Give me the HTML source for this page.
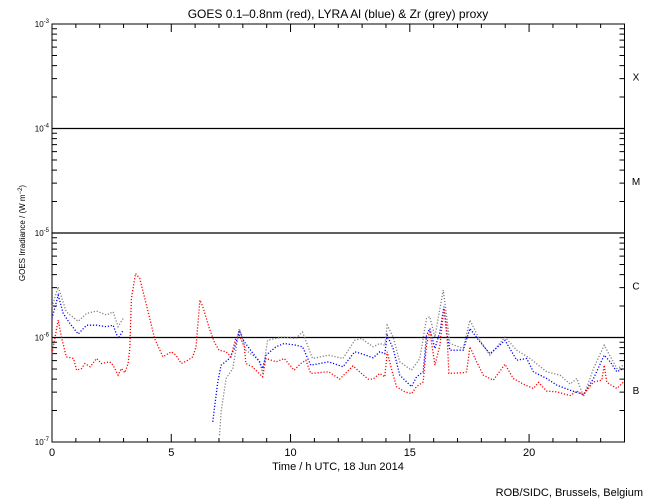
<!DOCTYPE html>
<html><head><meta charset="utf-8"><style>
body{margin:0;background:#fff;}
svg{display:block;font-family:"Liberation Sans",sans-serif;}
</style></head><body>
<svg id="chart" width="650" height="500" viewBox="0 0 650 500">
<rect width="650" height="500" fill="#fff"/>
<text x="338" y="18" text-anchor="middle" font-size="12">GOES 0.1–0.8nm (red), LYRA Al (blue) &amp; Zr (grey) proxy</text>
<text transform="translate(25,233) rotate(-90)" text-anchor="middle" font-size="8">GOES Irradiance / (W m<tspan dy="-3" font-size="6">−2</tspan><tspan dy="3">)</tspan></text>
<text x="338" y="470" text-anchor="middle" font-size="11">Time / h UTC, 18 Jun 2014</text>
<text x="643" y="496" text-anchor="end" font-size="11">ROB/SIDC, Brussels, Belgium</text>
<g id="axes"></g>
<g id="series"></g>
</svg>
<script>
const hoursRed=[0,0.26,0.4,0.6,0.9,1.03,1.24,1.38,1.6,1.87,2.07,2.42,2.56,2.77,2.91,3.05,3.19,3.26,3.33,3.5,3.68,3.89,4.1,4.3,4.65,5.0,5.2,5.42,5.7,5.9,6.04,6.1,6.2,6.32,6.6,6.8,7.0,7.3,7.5,7.7,7.85,8.06,8.13,8.4,8.83,8.97,9.4,9.74,10.15,10.43,10.64,10.85,11.6,12.06,12.62,12.97,13.25,13.46,13.74,13.95,14.05,14.23,14.44,14.79,15.07,15.28,15.56,15.7,15.84,16.05,16.26,16.43,16.54,16.64,17.24,17.38,17.52,17.8,18.08,18.5,18.99,19.34,19.76,20.18,20.39,20.74,21.16,21.72,22.0,22.28,22.7,23.05,23.15,23.26,23.68,23.96];
const valuesRed=[0.7,1.47,1.0,0.654,0.63,0.486,0.505,0.564,0.524,0.63,0.564,0.585,0.543,0.436,0.505,0.46,0.564,0.785,2.36,4.1,3.67,2.36,1.52,0.978,0.654,0.73,0.677,0.564,0.606,0.654,0.815,1.22,2.28,1.97,1.22,0.91,0.756,0.73,0.654,0.978,1.05,0.815,0.564,0.524,0.42,0.63,0.585,0.63,0.486,0.564,0.606,0.453,0.47,0.4,0.535,0.453,0.4,0.4,0.453,0.42,0.73,0.505,0.338,0.302,0.29,0.338,0.376,0.844,1.17,0.543,0.844,1.9,1.31,0.453,0.46,0.47,0.815,0.585,0.436,0.39,0.555,0.405,0.358,0.325,0.372,0.307,0.302,0.278,0.307,0.282,0.376,0.39,0.543,0.372,0.325,0.376];
const hoursBlueA=[0,0.26,0.47,0.75,1.1,1.45,1.87,2.28,2.56,2.77,2.98];
const valuesBlueA=[1.52,2.54,1.70,1.36,1.08,1.31,1.31,1.27,1.31,0.978,1.17];
const hoursBlueB=[6.74,6.81,6.95,7.09,7.44,7.65,7.85,8.06,8.27,8.69,8.83,8.97,9.39,9.73,10.22,10.5,10.85,11.6,12.2,12.69,12.97,13.46,13.74,13.95,14.05,14.3,14.58,15.07,15.28,15.56,15.7,15.84,16.05,16.26,16.43,16.54,16.68,17.24,17.52,17.94,18.36,18.99,19.48,19.9,20.18,20.74,21.16,21.72,22.28,22.7,23.15,23.4,23.68,23.96];
const valuesBlueB=[0.156,0.21,0.376,0.543,0.63,0.785,1.17,0.91,0.785,0.585,0.505,0.677,0.815,0.876,0.844,0.815,0.543,0.585,0.524,0.73,0.70,0.64,0.73,0.70,1.05,0.785,0.436,0.338,0.42,0.47,1.05,1.22,0.785,1.13,1.97,1.13,0.756,0.756,1.22,0.91,0.70,0.94,0.606,0.63,0.47,0.405,0.35,0.313,0.285,0.405,0.677,0.585,0.47,0.505];
const hoursGreyA=[0,0.26,0.6,1.1,1.45,1.87,2.28,2.56,2.77,2.98];
const valuesGreyA=[1.97,3.05,1.76,1.43,1.70,1.79,1.64,1.76,1.27,1.52];
const hoursGreyB=[7.02,7.09,7.3,7.58,7.85,8.13,8.69,8.83,9.04,9.67,10.22,10.5,10.92,11.6,12.2,12.69,12.97,13.46,13.74,13.95,14.05,14.3,14.58,15.07,15.42,15.7,15.84,16.05,16.4,16.54,16.68,17.24,17.52,17.94,18.36,18.99,19.48,20.04,20.74,21.3,21.72,22.0,22.28,22.7,23.15,23.68,23.96];
const valuesGreyB=[0.116,0.195,0.405,0.505,1.22,0.756,0.606,0.453,0.94,1.01,0.978,1.13,0.63,0.677,0.63,0.94,0.978,0.815,0.876,0.844,1.31,1.01,0.585,0.486,0.63,1.52,1.58,1.01,2.84,1.64,0.876,0.785,1.47,0.94,0.677,1.01,0.756,0.63,0.47,0.436,0.358,0.405,0.272,0.505,0.844,0.505,0.543];
const xTicks=[0,5,10,15,20];
const yDecades=[-3,-4,-5,-6,-7];
const classLabels=["X","M","C","B"];
const UNIT=1e-6;

const X0=52,X1=624.5,Y0=24,DEC=104.5;
const sx=h=>X0+(X1-X0)*h/24;
const sy=v=>Y0+(-3-Math.log10(v))*DEC;
const NS="http://www.w3.org/2000/svg";
function mk(tag,attrs,parent){const e=document.createElementNS(NS,tag);for(const k in attrs)e.setAttribute(k,attrs[k]);parent.appendChild(e);return e;}
const ax=document.getElementById('axes');
const frame=mk('rect',{x:X0,y:Y0,width:X1-X0,height:4*DEC,fill:'none',stroke:'#000','stroke-width':1},ax);


for(let h=0;h<=24;h++){
  const L=h%5===0?8:4,x=sx(h);
  const t=mk('path',{d:`M${x},${Y0}v${L}M${x},${Y0+4*DEC}v${-L}`,stroke:'#000','stroke-width':1},ax);
  
  
}
xTicks.forEach(h=>{
  const t=mk('text',{x:sx(h),y:Y0+4*DEC+14,'text-anchor':'middle','font-size':11},ax);
  t.textContent=h;
  
  
});
for(let d=-7;d<-3;d++){
  for(let m=2;m<=9;m++){
    const y=sy(m*Math.pow(10,d));
    const t=mk('path',{d:`M${X0},${y}h5M${X1},${y}h-5`,stroke:'#000','stroke-width':1},ax);
    
    
  }
}
yDecades.forEach(d=>{
  const y=sy(Math.pow(10,d));
  const t=mk('text',{x:X0-3,y:y+3,'text-anchor':'end','font-size':8},ax);
  t.innerHTML='10<tspan dy="-4" font-size="6">'+d+'</tspan>';
  
  
  if(d>-7&&d<-3){
    const l=mk('line',{x1:X0,x2:X1,y1:y,y2:y,stroke:'#000','stroke-width':1.3},ax);
    
    
  }
});
classLabels.forEach((c,i)=>{
  const y=sy(Math.pow(10,-3-i-0.5));
  const t=mk('text',{x:636,y:y+4,'text-anchor':'middle','font-size':10},ax);
  t.textContent=c;
  
  
});
const sg=document.getElementById('series');
function draw(hs,vs,color,name){
  const d=hs.map((h,i)=>(i?'L':'M')+sx(h).toFixed(1)+','+sy(vs[i]*UNIT).toFixed(1)).join('');
  const p=mk('path',{d:d,fill:'none',stroke:color,'stroke-width':1.3,'stroke-dasharray':'1.2 1.8'},sg);
  
  
}
draw(hoursGreyA,valuesGreyA,'#808080','zr-proxy-series');
draw(hoursGreyB,valuesGreyB,'#808080','zr-proxy-series');
draw(hoursBlueA,valuesBlueA,'#0000ff','al-proxy-series');
draw(hoursBlueB,valuesBlueB,'#0000ff','al-proxy-series');
draw(hoursRed,valuesRed,'#ff0000','goes-series');
</script>
</body></html>
